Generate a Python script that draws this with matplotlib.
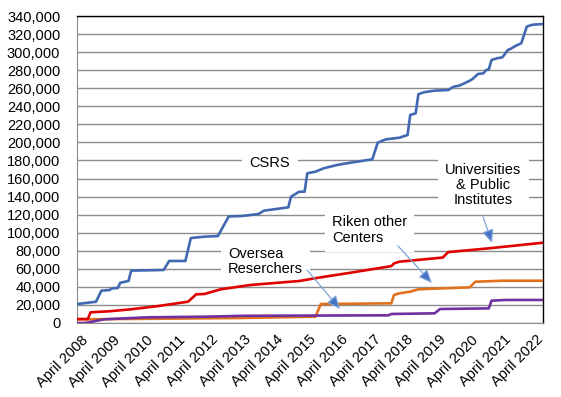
import matplotlib
matplotlib.use("Agg")
import matplotlib.pyplot as plt
import matplotlib.transforms as mtransforms

plt.rcParams['font.family'] = ['Liberation Sans', 'DejaVu Sans']

# months counted from April 2008, cumulative counts
csrs_months = [0, 7, 9, 12, 13, 15, 16, 19, 20, 32, 34, 40, 42, 47, 52, 56, 61, 67, 69, 78,
               79, 82, 84, 85, 88, 91, 96, 98, 109, 111, 114, 119, 122, 123, 125, 126, 128,
               132, 137, 139, 141, 143, 145, 146, 148, 150, 151, 152, 153, 155, 157, 159,
               160, 162, 164, 166, 168, 172]
csrs_counts = [21000, 23500, 35800, 36500, 38400, 38700, 44600, 46500, 58000, 58700, 68700,
               68700, 94100, 95600, 96300, 118000, 118500, 120700, 124400, 128100, 139900,
               145400, 145400, 165800, 167600, 171300, 175000, 176100, 181300, 199700, 203400,
               205200, 208200, 230400, 232200, 253300, 255500, 257300, 258000, 261700, 262800,
               265500, 268400, 270200, 275800, 276500, 280200, 281000, 291300, 293200, 294200,
               302300, 303500, 307100, 309800, 328200, 330300, 331100]

univ_months = [0, 4, 5, 12, 20, 30, 41, 44, 47, 53, 64, 82, 90, 101, 116, 117, 119, 135, 137,
               152, 172]
univ_counts = [4400, 4400, 11800, 13000, 15200, 18800, 23600, 31800, 32100, 37300, 42100,
               46500, 50600, 55700, 63000, 66000, 67900, 72500, 78500, 82700, 88900]

riken_months = [0, 60, 88, 90, 116, 117, 119, 123, 126, 135, 145, 147, 157, 172]
riken_counts = [4000, 5500, 7000, 21000, 21800, 31000, 32900, 34700, 37300, 38400, 39500,
                45700, 46800, 46800]

oversea_months = [0, 3, 10, 26, 47, 62, 115, 116, 132, 134, 152, 153, 158, 172]
oversea_counts = [0, 0, 4100, 6300, 7000, 8000, 8500, 10000, 10700, 15500, 16200, 24700,
                  25500, 25500]

tick_months = list(range(0, 169, 12))
tick_labels = [f"April {2008 + i}" for i in range(len(tick_months))]

fig = plt.figure(figsize=(5.61, 3.97), dpi=100)
ax = fig.add_axes([77 / 561, 74 / 397, 466 / 561, 307 / 397])

lw = 1.9
ax.plot(csrs_months, csrs_counts, color='#4169B2', lw=lw, zorder=5)
ax.plot(univ_months, univ_counts, color='#E00000', lw=lw, zorder=5)
ax.plot(riken_months, riken_counts, color='#E2711E', lw=lw, zorder=4)
ax.plot(oversea_months, oversea_counts, color='#7030A0', lw=lw, zorder=4)

ax.set_xlim(0, 172)
ax.set_ylim(0, 340000)
ax.set_yticks(range(0, 340001, 20000))
ax.set_yticklabels([f"{v:,}" for v in range(0, 340001, 20000)], fontsize=10.5)
ax.grid(axis='y', color='#8C8C8C', lw=1.0)
ax.set_axisbelow(True)
ax.tick_params(axis='y', length=0, pad=12)

ax.set_xticks(tick_months)
ax.set_xticklabels(tick_labels, rotation=45, ha='right', va='top',
                   rotation_mode='anchor', fontsize=10.5)
ax.tick_params(axis='x', length=0, pad=7)
offset = mtransforms.ScaledTranslation(4 / 100, 0, fig.dpi_scale_trans)
for lab in ax.get_xticklabels():
    lab.set_transform(lab.get_transform() + offset)

for side in ['left', 'bottom']:
    ax.spines[side].set_color('#8C8C8C')
for side in ['top', 'right']:
    ax.spines[side].set_color('black')
    ax.spines[side].set_linewidth(1.0)

box = dict(facecolor='white', edgecolor='none', boxstyle='square,pad=0.5')
ax.text(71.2, 177200, "CSRS", fontsize=10.5, ha='center', va='center', bbox=box, zorder=3)
ax.text(149.9, 152800, "Universities\n& Public\nInstitutes", fontsize=10.5, ha='center',
        va='center', multialignment='center', linespacing=1.1, bbox=box, zorder=3)
ax.text(94.1, 103000, "Riken other\nCenters", fontsize=10.5, ha='left', va='center',
        linespacing=1.1, bbox=box, zorder=3)
ax.text(55.7, 68100, "Oversea\nReserchers", fontsize=10.5, ha='left', va='center',
        linespacing=1.1, bbox=box, zorder=3)

arrow = dict(arrowstyle='-|>,head_length=0.8,head_width=0.35', color='#7FA3D6', lw=0.9,
             shrinkA=0, shrinkB=0)
arrows = [((149.9, 117400), (153.2, 88600)),
          ((118.5, 85300), (131.0, 44300)),
          ((84.9, 58700), (97.1, 15500))]
for tail, tip in arrows:
    a = ax.annotate('', xy=tip, xytext=tail, arrowprops=arrow, zorder=6)
    a.arrow_patch.set_facecolor('#4472C4')

fig.savefig("out.png", dpi=100)
